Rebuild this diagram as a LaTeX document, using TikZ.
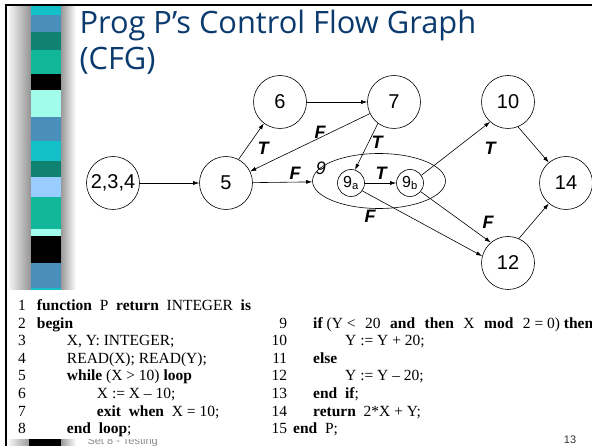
\documentclass[tikz,border=0pt]{standalone}
\usepackage{fontspec}
\setmainfont{Liberation Serif}
\setsansfont{Liberation Sans}
\newfontfamily\titlefont{Open Sans}
\usepackage{xcolor}
\usepackage{tikz}
\usetikzlibrary{arrows.meta,shapes.geometric}
\definecolor{slideBlue}{HTML}{0B3B6E}
\definecolor{barCyan}{HTML}{14C0C8}
\definecolor{barSteel}{HTML}{4A8FBA}
\definecolor{barDarkTeal}{HTML}{0F8272}
\definecolor{barTeal}{HTML}{12B79A}
\definecolor{barAqua}{HTML}{A2FCEB}
\definecolor{barLightBlue}{HTML}{99CCFF}
\definecolor{footGray}{HTML}{8C8C8C}
\newcommand{\wsp}{\hspace{9.5pt}}

\tikzset{
    blk/.style={draw, circle, minimum size=53pt, inner sep=0pt, line width=0.6pt,
        font=\sffamily\fontsize{20}{24}\selectfont},
    subblk/.style={draw, circle, minimum size=27pt, inner sep=0pt, line width=0.6pt,
        font=\sffamily\fontsize{16}{18}\selectfont},
    flow/.style={-{Latex[length=6pt,width=4pt]}, line width=0.6pt},
    tf/.style={font=\sffamily\bfseries\itshape\fontsize{18}{20}\selectfont},
    codetxt/.style={anchor=north west, inner sep=0pt, font=\fontsize{15.5}{17.6}\selectfont},
}

\begin{document}
\begin{tikzpicture}[x=1pt, y=-1pt]
        \useasboundingbox (0,0) rectangle (592,446);
        \fill[white] (0,0) rectangle (592,446);

        \shade[left color=gray!10, right color=gray!85] (9,5) rectangle (31,446);
        \shade[left color=gray!80, right color=white] (61,5) rectangle (76,446);
        \fill[barCyan]       (31,5)   rectangle (61,15);
        \fill[barSteel]      (31,15)  rectangle (61,32);
        \fill[barDarkTeal]   (31,32)  rectangle (61,50);
        \fill[barTeal]       (31,50)  rectangle (61,74);
        \fill[black]         (31,74)  rectangle (61,90);
        \fill[barAqua]       (31,90)  rectangle (61,117);
        \fill[barSteel]      (31,117) rectangle (61,141);
        \fill[barCyan]       (31,141) rectangle (61,161);
        \fill[barDarkTeal]   (31,161) rectangle (61,177);
        \fill[barLightBlue]  (31,177) rectangle (61,197);
        \fill[barTeal]       (31,197) rectangle (61,229);
        \fill[barAqua]       (31,229) rectangle (61,236);
        \fill[black]         (31,236) rectangle (61,263);
        \fill[barSteel]      (31,263) rectangle (61,288);
        \fill[barCyan]       (31,288) rectangle (61,300);
        \fill[black]         (29,437) rectangle (61,446);

        \node[font=\sffamily\fontsize{11}{13}\selectfont, text=footGray, anchor=base west]
            (footer) at (84,444.5) {Set 8 - Testing};
        \fill[white] (8,290) rectangle (592,439);
        \draw[line width=2pt] (6,446) -- (6,5) -- (592,5);

        \node[font=\titlefont\fontsize{30.8}{36}\selectfont, text=slideBlue, anchor=base west]
            (title) at (76,34) {Prog P’s Control Flow Graph};
        \node[font=\titlefont\fontsize{30.8}{36}\selectfont, text=slideBlue, anchor=base west]
            (titlecfg) at (76,70) {(CFG)};

        \node[blk] (b234) at (113,183) {2,3,4};
        \node[blk] (b5)   at (226,183) {5};
        \node[blk] (b6)   at (280,102) {6};
        \node[blk] (b7)   at (394,102) {7};
        \node[blk] (b10)  at (508,102) {10};
        \node[blk] (b12)  at (508,263) {12};
        \node[blk] (b14)  at (566,183) {14};
        \node[draw, ellipse, minimum width=133pt, minimum height=55pt, inner sep=0pt,
            line width=0.6pt] (b9) at (379,181) {};
        \node[subblk] (b9a) at (351,183) {9\textsubscript{a}};
        \node[subblk] (b9b) at (410,183) {9\textsubscript{b}};
        \node[font=\sffamily\itshape\fontsize{18}{20}\selectfont] (lab9) at (321,168) {9};

        \draw[flow] (b234) -- (b5);
        \draw[flow] (b5.62) -- (b6.233);
        \draw[flow] (b6) -- (b7);
        \draw[flow] (b7) -- (b5);
        \draw[flow] (b7.233) -- (b9a.73);
        \draw[flow] (b5) -- (b9);
        \draw[flow] (b9a) -- (b9b);
        \draw[flow] (b9a.-35) -- (b12.165);
        \draw[flow] (b9b.34) -- (b10.228);
        \draw[flow] (b9b.-39) -- (b12.130);
        \draw[flow] (b10.-68) -- (b14.130);
        \draw[flow] (b12.66) -- (b14.230);

        \node[tf] (t56)   at (263,148) {T};
        \node[tf] (f75)   at (320,132) {F};
        \node[tf] (t79)   at (377,142) {T};
        \node[tf] (f59)   at (295,173) {F};
        \node[tf] (t9ab)  at (381,173) {T};
        \node[tf] (f9a12) at (370,216) {F};
        \node[tf] (t910)  at (490,148) {T};
        \node[tf] (f912)  at (488,222) {F};

        \node[codetxt] (codeleft) at (18,298) {%
            \begin{tabular}{@{}r@{\hspace{11pt}}l@{}}
            1 & \textbf{function}\ \ P\ \ \textbf{return}\ \ INTEGER\ \ \textbf{is}\\
            2 & \textbf{begin}\\
            3 & \hspace{30pt}X, Y: INTEGER;\\
            4 & \hspace{30pt}READ(X); READ(Y);\\
            5 & \hspace{30pt}\textbf{while} (X > 10) \textbf{loop}\\
            6 & \hspace{60pt}X := X – 10;\\
            7 & \hspace{60pt}\textbf{exit}\ \ \textbf{when}\ \ X = 10;\\
            8 & \hspace{30pt}\textbf{end}\ \ \textbf{loop};
            \end{tabular}};
        \node[codetxt] (coderight) at (271.5,315.6) {%
            \begin{tabular}{@{}r@{\hspace{6pt}}l@{}}
            9 & \hspace{20pt}\textbf{if} (Y <\wsp 20\wsp\textbf{and}\wsp\textbf{then}\wsp X\wsp\textbf{mod}\wsp 2 = 0) \textbf{then}\\
            10 & \hspace{52pt}Y := Y + 20;\\
            11 & \hspace{20pt}\textbf{else}\\
            12 & \hspace{52pt}Y := Y – 20;\\
            13 & \hspace{20pt}\textbf{end}\ \ \textbf{if};\\
            14 & \hspace{20pt}\textbf{return}\ \ 2*X + Y;\\
            15 & \textbf{end}\ \ P;
            \end{tabular}};

        \node[font=\sffamily\fontsize{11}{13}\selectfont, text=black!80, anchor=base]
            (pageno) at (570,443) {13};
    \end{tikzpicture}
\end{document}
